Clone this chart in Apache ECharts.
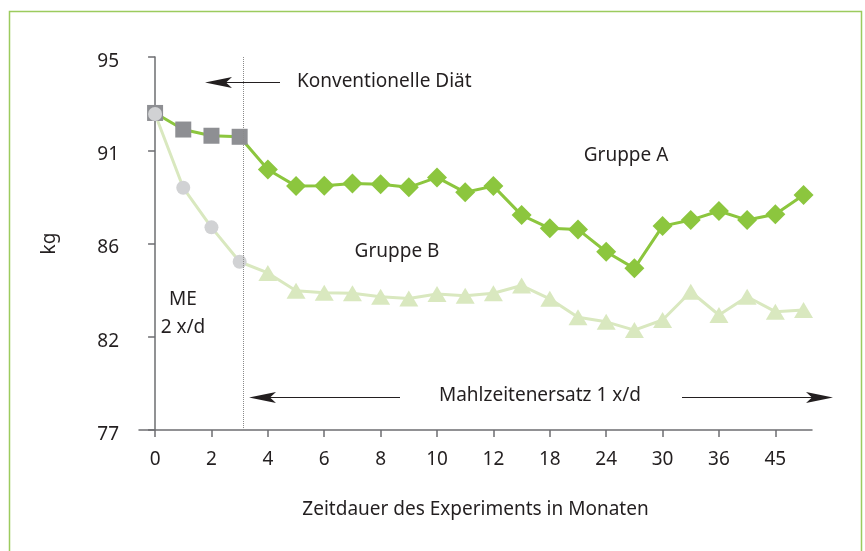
<!DOCTYPE html>
<html>
<head>
<meta charset="utf-8">
<script src="https://cdn.jsdelivr.net/npm/echarts@6/dist/echarts.min.js"></script>
<style>
html, body { margin: 0; padding: 0; background: #fff; }
#chart { width: 865px; height: 551px; }
</style>
</head>
<body>
<div id="chart"></div>
<script>
// Monate je Messpunkt (nur jede zweite Beschriftung wird gezeigt)
const months = ['0', '1', '2', '3', '4', '5', '6', '7', '8', '9', '10', '11', '12',
    '15', '18', '21', '24', '27', '30', '33', '36', '40', '45', '48']
const labelIdx = [0, 2, 4, 6, 8, 10, 12, 14, 16, 18, 20, 22]
const yTicks = [77, 81.5, 86, 90.5, 95]
// Gewicht in kg
const groupA = [92.3, 91.5, 91.2, 91.15, 89.57, 88.77, 88.79, 88.9, 88.86, 88.71, 89.19, 88.47,
    88.77, 87.37, 86.73, 86.68, 85.6, 84.8, 86.84, 87.13, 87.57, 87.13, 87.41, 88.34]
const groupB = [92.25, 88.69, 86.78, 85.12, 84.58, 83.72, 83.62, 83.6, 83.43, 83.35, 83.56, 83.48,
    83.6, 83.97, 83.33, 82.44, 82.22, 81.82, 82.31, 83.67, 82.55, 83.43, 82.71, 82.79]
const meCount = 4 // erste Punkte: Mahlzeitenersatz 2 x/d
const phaseSplit = 3.11

const green = '#8cc63e'
const lightGreen = '#d9e8bf'
const textColor = '#231f20'
const font = '"Noto Sans", sans-serif'
const fs = 19

const chart = echarts.init(document.getElementById('chart'))

function arrow(x1, x2, y) {
    const dir = x2 < x1 ? 1 : -1
    return [
        { type: 'line', z: 20, shape: { x1: x1, y1: y, x2: x2 + dir * 20, y2: y },
          style: { stroke: '#231f20', lineWidth: 1.2 } },
        { type: 'polygon', z: 20, shape: { points: [[x2, y], [x2 + dir * 27, y - 5.5],
            [x2 + dir * 21, y], [x2 + dir * 27, y + 5.5]] },
          style: { fill: '#231f20' } }
    ]
}

function label(text, x, y, align) {
    return { type: 'text', z: 20, x: x, y: y,
        style: { text: text, fill: textColor, font: fs + 'px ' + font,
            align: align || 'left', verticalAlign: 'middle' } }
}

const option = {
    animation: false,
    grid: { left: 139, right: 53, top: 57, bottom: 121 },
    xAxis: {
        type: 'value',
        min: -0.57,
        max: 23.3,
        splitLine: { show: false },
        axisLine: { lineStyle: { color: '#6d6e71', width: 1.5 } },
        axisTick: { customValues: labelIdx, length: 7, lineStyle: { color: '#6d6e71', width: 1.5 } },
        axisLabel: {
            customValues: labelIdx,
            formatter: v => months[Math.round(v)],
            color: textColor, fontSize: fs, fontFamily: font, margin: 20
        },
        name: 'Zeitdauer des Experiments in Monaten',
        nameLocation: 'middle',
        nameGap: 70,
        nameTextStyle: { color: textColor, fontSize: fs, fontFamily: font }
    },
    yAxis: {
        type: 'value',
        min: 77,
        max: 95,
        splitLine: { show: false },
        axisLine: { show: true, lineStyle: { color: '#6d6e71', width: 1.5 } },
        axisTick: { show: true, customValues: yTicks, length: 7, lineStyle: { color: '#6d6e71', width: 1.5 } },
        axisLabel: {
            customValues: yTicks,
            formatter: v => '{v|' + Math.round(v) + '}',
            rich: { v: { color: textColor, fontSize: fs, fontFamily: font, padding: [9, 0, 0, 0] } },
            margin: 20
        },
        name: 'kg',
        nameLocation: 'middle',
        nameGap: 80,
        nameTextStyle: { color: textColor, fontSize: fs, fontFamily: font }
    },
    series: [
        {
            name: 'Gruppe A',
            type: 'line',
            symbol: 'diamond',
            symbolSize: 20,
            lineStyle: { color: green, width: 3 },
            itemStyle: { color: green },
            data: groupA.map((v, i) => i < meCount
                ? { value: [i, v], symbol: 'rect', symbolSize: 16, itemStyle: { color: '#8e8f93' } }
                : { value: [i, v] }),
            markLine: {
                silent: true,
                symbol: 'none',
                label: { show: false },
                lineStyle: { color: '#8a8a8a', type: 'dotted', width: 1 },
                data: [{ xAxis: phaseSplit }]
            }
        },
        {
            name: 'Gruppe B',
            type: 'line',
            symbol: 'triangle',
            symbolSize: [19, 16],
            lineStyle: { color: lightGreen, width: 3 },
            itemStyle: { color: lightGreen },
            data: groupB.map((v, i) => i < meCount
                ? { value: [i, v], symbol: 'circle', symbolSize: 14, itemStyle: { color: '#d1d2d4' } }
                : { value: [i, v] })
        }
    ],
    graphic: [
        { type: 'rect', z: 0, shape: { x: 9.5, y: 11.5, width: 852, height: 560 },
          style: { fill: 'none', stroke: '#9ccb5e', lineWidth: 1.5 } },
        ...arrow(280, 205, 82.5),
        label('Konventionelle Diät', 297, 82),
        ...arrow(400, 249, 397.5),
        ...arrow(682, 833, 397.5),
        label('Mahlzeitenersatz 1 x/d', 540, 396, 'center'),
        label('ME', 183, 300, 'center'),
        label('2 x/d', 183, 328, 'center'),
        label('Gruppe A', 626, 156, 'center'),
        label('Gruppe B', 397, 252, 'center')
    ]
}

chart.setOption(option)
</script>
</body>
</html>
